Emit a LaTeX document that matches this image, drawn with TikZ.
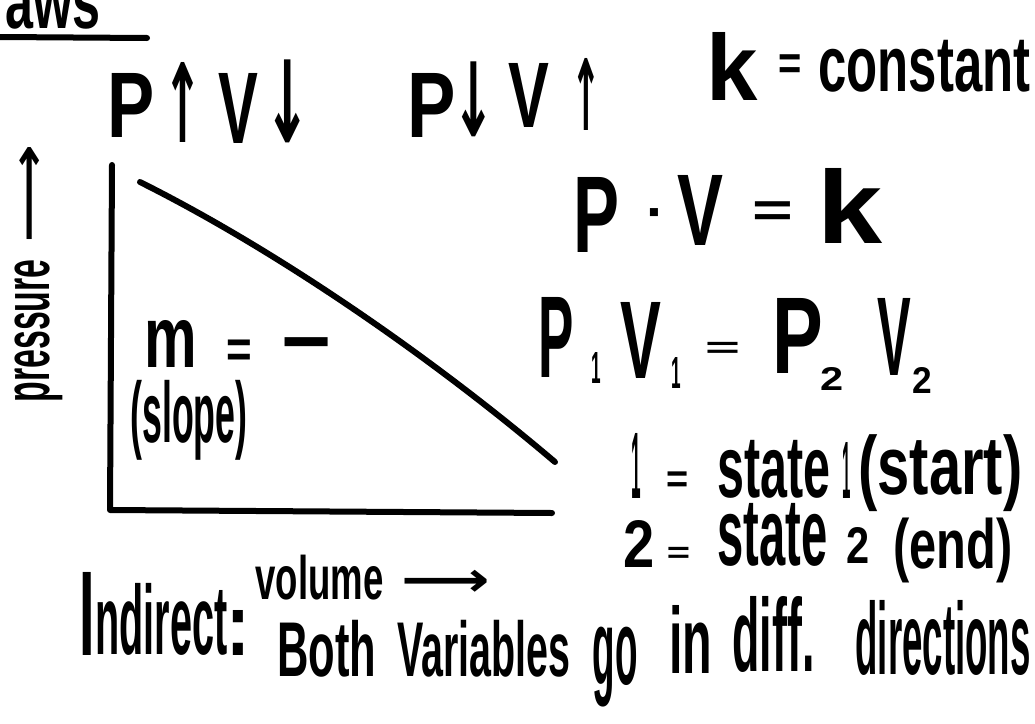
\documentclass[tikz,border=0pt]{standalone}
\usepackage{fontspec}
\usepackage{graphicx}
\setmainfont{Liberation Sans}
\newfontfamily\sym{DejaVu Sans}
% a glyph cut to its ink: side bearings removed, ink bottom on the baseline
\newcount\gcnt
\newdimen\glL \newdimen\glR \newdimen\glB
\newcommand\tg[1]{%
  \setbox0=\hbox{#1}%
  \gcnt=\XeTeXcharglyph`#1\relax
  \glL=\XeTeXglyphbounds1 \gcnt
  \glR=\XeTeXglyphbounds3 \gcnt
  \glB=\XeTeXglyphbounds4 \gcnt
  \ifdim\glB<0pt \glB=-\glB\fi
  \ifdim\dp0>0pt \glB=0pt\fi
  \hbox{\kern-\glL\raisebox{-\glB}[\dimexpr\ht0-\glB\relax][\dp0]{#1}\kern-\glR}}
% piece of handwriting: raise, width, total height, text
\newcommand\gl[4]{\raisebox{#1pt}{\raisebox{\depth}{\resizebox*{#2pt}{#3pt}{#4}}}}
% same piece, shifted right by #1 from the node origin
\newcommand\pc[5]{\rlap{\hspace*{#1pt}\gl{#2}{#3}{#4}{#5}}}
\tikzset{
  txt/.style={inner sep=0pt, outer sep=0pt, anchor=base west, font=\bfseries},
  ink/.style={line width=6pt, line cap=round, line join=round, black}
}
\begin{document}
\begin{tikzpicture}[x=1pt,y=-1pt]
\fill[white] (0,0) rectangle (1035,723);
\useasboundingbox (0,0) rectangle (1035,723);

% title fragment
\node[txt] (aws) at (5,29) {\pc{0}{0}{95}{42}{aws}};
\coordinate (ul1) at (0,37);
\coordinate (ul2) at (147,38);
\draw[ink] (ul1) -- (ul2);

% P up V down / P down V up
\node[txt] (pv1) at (112,140) {%
  \pc{0}{3}{40}{64}{\tg{P}}\pc{60}{-2}{21}{80}{\sym\tg{↑}}%
  \pc{106}{-3}{39}{70}{\tg{V}}\pc{163}{-3}{25}{83}{\sym\tg{↓}}};
\node[txt] (pv2) at (412,140) {%
  \pc{0}{3}{41}{64}{\tg{P}}\pc{50}{3}{23}{75}{\sym\tg{↓}}%
  \pc{96}{13}{40}{64}{\tg{V}}\pc{166}{10}{16}{72}{\sym\tg{↑}}};

% k = constant
\node[txt] (k) at (712,100) {\pc{0}{0}{45}{68}{\tg{k}}};
\node[txt] (kc) at (780,92) {\pc{0}{19}{20}{18}{\tg{=}}\pc{38}{0}{212}{52}{constant}};

% P . V = k
\node[txt] (pvk) at (578,250) {%
  \pc{0}{-2}{39}{75}{\tg{P}}\pc{72}{33}{8}{8}{\tg{·}}\pc{99}{5}{45}{70}{\tg{V}}%
  \pc{177}{30}{35}{18}{\tg{=}}\pc{247}{7}{57}{75}{\tg{k}}};

% P1 V1 = P2 V2
\node[txt] (boyle) at (542,378) {%
  \pc{0}{1}{30}{80}{\tg{P}}\pc{50}{-5}{8}{31}{\tg{1}}%
  \pc{78}{0}{40}{76}{\tg{V}}\pc{130}{-10}{8}{31}{\tg{1}}%
  \pc{165}{25}{30}{11}{\tg{=}}%
  \pc{235}{5}{43}{75}{\tg{P}}\pc{279}{-12}{20}{23}{\tg{2}}%
  \pc{335}{3}{33}{77}{\tg{V}}\pc{371}{-15}{17}{26}{\tg{2}}};

% states
\node[txt] (st1) at (632,498) {%
  \pc{0}{0}{8}{65}{\tg{1}}\pc{36}{11}{19}{15}{\tg{=}}\pc{85}{0}{113}{58}{state}%
  \pc{211}{0}{7}{56}{\tg{1}}\pc{226}{-14}{164}{77}{(start)}};
\node[txt] (st2) at (625,566) {%
  \pc{0}{-1}{27}{47}{\tg{2}}\pc{43}{8}{20}{11}{\tg{=}}\pc{92}{0}{110}{63}{state}%
  \pc{222}{3}{20}{36}{\tg{2}}\pc{268}{-17}{119}{65}{(end)}};

% graph
\coordinate (ytop) at (112,165);
\coordinate (O) at (110,510);
\coordinate (xend) at (552,513);
\draw[ink] (ytop) -- (O) -- (xend);
\coordinate (c1) at (140,182);
\coordinate (c5) at (555,462);
\draw[ink] (c1) .. controls (280,252) and (435,360) .. (c5);

\node[txt] (m) at (148,367) {%
  \pc{0}{0}{45}{47}{\tg{m}}\pc{80}{7}{22}{20}{\tg{=}}\pc{137}{20}{43}{9}{\tg{−}}};
\node[txt] (slope) at (130,460) {\pc{0}{0}{117}{80}{(slope)}};

% axis labels
\node[txt, rotate=90] (pres) at (45,403) {%
  \pc{0}{-18}{143}{48}{pressure}\pc{163}{5}{92}{20}{\sym\tg{⟶}}};
\node[txt] (vol) at (255,600) {%
  \pc{0}{0}{128}{45}{volume}\pc{150}{8}{82}{22}{\sym\tg{⟶}}};

% bottom sentence
\node[txt] (ind) at (83,655) {%
  \pc{0}{0}{8}{83}{\tg{I}}\pc{12}{0}{132}{72}{ndirect}\pc{150}{0}{10}{45}{\tg{:}}};
\node[txt] (both) at (277,677) {%
  \pc{0}{0}{99}{57}{Both}\pc{120}{0}{173}{57}{Variables}%
  \pc{315}{-30}{45}{80}{go}\pc{392}{4}{43}{68}{in}%
  \pc{455}{4}{82}{76}{diff.}\pc{578}{2}{175}{75}{directions}};
\end{tikzpicture}
\end{document}
